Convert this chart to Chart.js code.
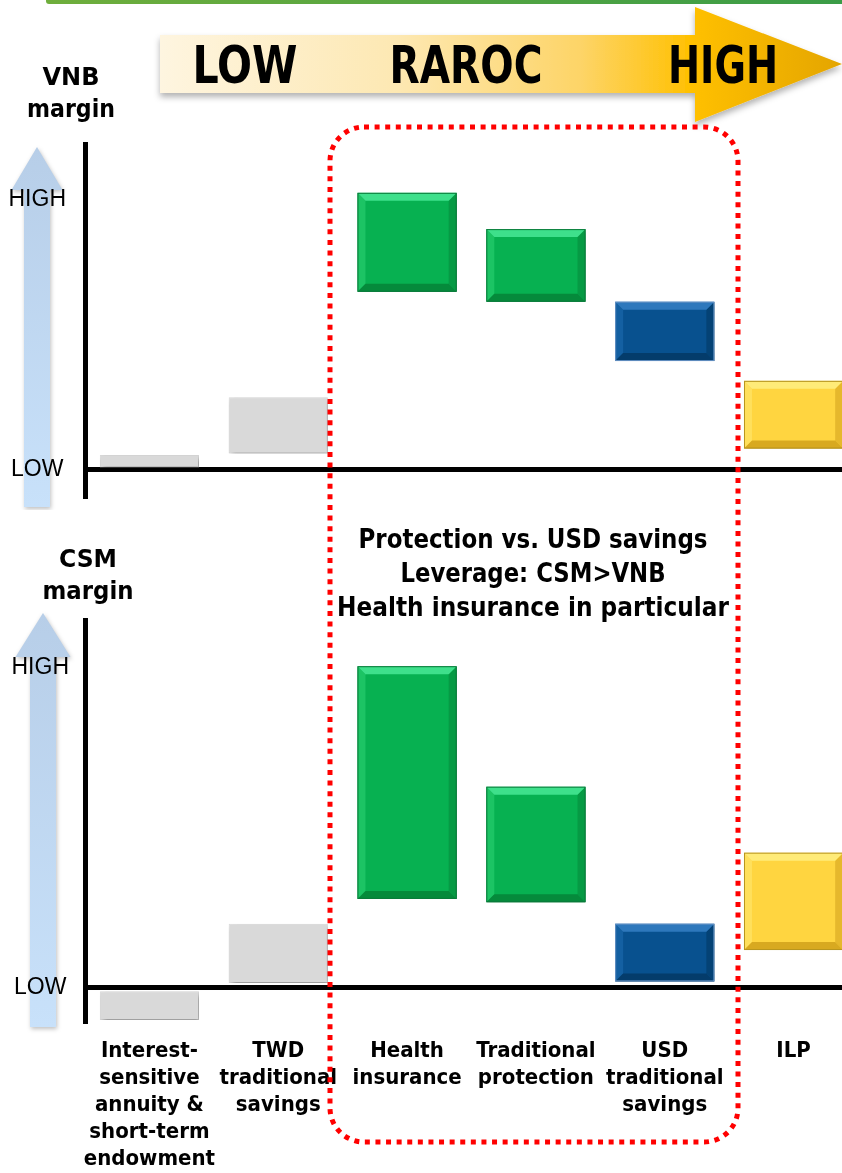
<!DOCTYPE html>
<html>
<head>
<meta charset="utf-8">
<script src="https://cdn.jsdelivr.net/npm/chart.js@4.4.1/dist/chart.umd.min.js"></script>
<style>
html, body { margin:0; padding:0; width:842px; height:1173px; overflow:hidden; background:#fff; }
#stage { position:relative; width:842px; height:1173px; }
canvas { position:absolute; left:0; }
#vnbChart { top:130px; }
#csmChart { top:600px; }
svg.layer { position:absolute; left:0; top:0; pointer-events:none; }
.narrow { font-family:"Liberation Sans Narrow", "DejaVu Sans Condensed", "Arial Narrow", sans-serif; font-weight:bold; fill:#000; }
</style>
</head>
<body>
<div id="stage">
  <canvas id="vnbChart" width="875" height="380"></canvas>
  <canvas id="csmChart" width="875" height="573"></canvas>
  <svg class="layer" width="842" height="1173">
    <defs>
      <linearGradient id="topLine" x1="0" x2="1">
        <stop offset="0" stop-color="#6fae3c"/>
        <stop offset="1" stop-color="#3a9c47"/>
      </linearGradient>
      <linearGradient id="raroc" x1="160" x2="842" y1="0" y2="0" gradientUnits="userSpaceOnUse">
        <stop offset="0" stop-color="#fef5e0"/>
        <stop offset="0.35" stop-color="#fde8b2"/>
        <stop offset="0.62" stop-color="#fdd466"/>
        <stop offset="0.78" stop-color="#ffc000"/>
        <stop offset="1" stop-color="#e4a500"/>
      </linearGradient>
      <filter id="shadow" x="-5%" y="-20%" width="110%" height="160%">
        <feDropShadow dx="0" dy="4" stdDeviation="3" flood-color="#000" flood-opacity="0.3"/>
      </filter>
    </defs>
    <rect x="46" y="-2" width="800" height="6" rx="3" fill="url(#topLine)"/>
    <path d="M160 35 H695 V7 L842 64 L695 122 V93 H160 Z" fill="url(#raroc)" filter="url(#shadow)"/>
    <text class="narrow" x="245" y="83" font-size="52" text-anchor="middle" textLength="105" lengthAdjust="spacingAndGlyphs">LOW</text>
    <text class="narrow" x="466" y="83" font-size="52" text-anchor="middle" textLength="153" lengthAdjust="spacingAndGlyphs">RAROC</text>
    <text class="narrow" x="723" y="83" font-size="52" text-anchor="middle" textLength="110" lengthAdjust="spacingAndGlyphs">HIGH</text>

    <text class="narrow" x="71" y="85" font-size="24" text-anchor="middle" textLength="57" lengthAdjust="spacingAndGlyphs">VNB</text>
    <text class="narrow" x="71" y="117" font-size="24" text-anchor="middle" textLength="88" lengthAdjust="spacingAndGlyphs">margin</text>
    <text class="narrow" x="88" y="567" font-size="24" text-anchor="middle" textLength="58" lengthAdjust="spacingAndGlyphs">CSM</text>
    <text class="narrow" x="88" y="599" font-size="24" text-anchor="middle" textLength="91" lengthAdjust="spacingAndGlyphs">margin</text>

    <text class="narrow" x="533" y="548" font-size="26" text-anchor="middle" textLength="349" lengthAdjust="spacingAndGlyphs">Protection vs. USD savings</text>
    <text class="narrow" x="533" y="582" font-size="26" text-anchor="middle" textLength="265" lengthAdjust="spacingAndGlyphs">Leverage: CSM&gt;VNB</text>
    <text class="narrow" x="533" y="616" font-size="26" text-anchor="middle" textLength="392" lengthAdjust="spacingAndGlyphs">Health insurance in particular</text>

    <rect x="330" y="127" width="408" height="1015" rx="34" fill="none" stroke="#ff0000" stroke-width="5" stroke-dasharray="5 5.6"/>
  </svg>
</div>
<script>
// product lines, left (low RAROC) to right (high RAROC)
const categories = [
  ['Interest-', 'sensitive', 'annuity &', 'short-term', 'endowment'],
  ['TWD', 'traditional', 'savings'],
  ['Health', 'insurance'],
  ['Traditional', 'protection'],
  ['USD', 'traditional', 'savings'],
  ['ILP']
];
// VNB margin band per product (bottom / top of each box)
const vnbLow  = [0, 5, 54, 51, 33, 6.5];
const vnbHigh = [4.5, 22, 84, 73, 51, 27];
// CSM margin band per product
const csmLow  = [-9.7, 1.5, 27, 26, 2, 11.5];
const csmHigh = [-1, 19.5, 97.5, 61, 19.5, 41];
// y axis marks
const levelLabels = ['LOW', 'HIGH'];
const vnbHighMark = 82;
const csmHighMark = 97;

const barStyle = ['gray', 'gray', 'green', 'green', 'blue', 'yellow'];
const LOOK = {
  gray:   { fill: '#d9d9d9', edge: '#d9d9d9' },
  green:  { fill: '#07b151', edge: '#0a7a3a', top: '#3ee08b', left: '#1cc464', right: '#069a44', bottom: '#058a3b' },
  blue:   { fill: '#08518f', edge: '#6592c4', top: '#2e78bc', left: '#1460a2', right: '#044275', bottom: '#043c6b' },
  yellow: { fill: '#ffd540', edge: '#b8951f', top: '#ffeb78', left: '#ffe05c', right: '#e6b82c', bottom: '#d8a920' }
};
const NARROW = '"Liberation Sans Narrow", "DejaVu Sans Condensed", "Arial Narrow", sans-serif';

function poly(ctx, color, pts) {
  ctx.fillStyle = color;
  ctx.beginPath();
  ctx.moveTo(pts[0][0], pts[0][1]);
  for (let k = 1; k < pts.length; k++) ctx.lineTo(pts[k][0], pts[k][1]);
  ctx.closePath();
  ctx.fill();
}

// shadow under the boxes + bevelled edges like the slide shapes
const bevelPlugin = {
  id: 'bevel',
  beforeDatasetsDraw(chart) {
    const ctx = chart.ctx;
    ctx.save();
    ctx.shadowColor = 'rgba(0,0,0,0.35)';
    ctx.shadowBlur = 5;
    ctx.shadowOffsetX = 2;
    ctx.shadowOffsetY = 3;
  },
  afterDatasetsDraw(chart) {
    const ctx = chart.ctx;
    ctx.restore();
    chart.getDatasetMeta(0).data.forEach((bar, i) => {
      const look = LOOK[barStyle[i]];
      if (!look.top) return;
      const p = bar.getProps(['x', 'y', 'base', 'width'], true);
      const l = p.x - p.width / 2, r = p.x + p.width / 2;
      const t = Math.min(p.y, p.base), b = Math.max(p.y, p.base);
      const d = 8;
      poly(ctx, look.left, [[l, t], [l + d, t + d], [l + d, b - d], [l, b]]);
      poly(ctx, look.right, [[r, t], [r - d, t + d], [r - d, b - d], [r, b]]);
      poly(ctx, look.bottom, [[l, b], [l + d, b - d], [r - d, b - d], [r, b]]);
      poly(ctx, look.top, [[l, t], [r, t], [r - d, t + d], [l + d, t + d]]);
      ctx.strokeStyle = look.edge;
      ctx.lineWidth = 1;
      ctx.strokeRect(l + 0.5, t + 0.5, p.width - 1, b - t - 1);
    });
  }
};

// light blue LOW->HIGH arrow behind the y labels
function levelArrow(cx, tip, base, bottom, shaftW, headW) {
  return {
    id: 'levelArrow',
    beforeDraw(chart) {
      const ctx = chart.ctx;
      ctx.save();
      const g = ctx.createLinearGradient(0, tip, 0, bottom);
      g.addColorStop(0, '#b7cee8');
      g.addColorStop(1, '#c8e1fa');
      ctx.fillStyle = g;
      ctx.shadowColor = 'rgba(0,0,0,0.25)';
      ctx.shadowBlur = 4;
      ctx.shadowOffsetX = 1;
      ctx.shadowOffsetY = 2;
      ctx.beginPath();
      ctx.moveTo(cx, tip);
      ctx.lineTo(cx + headW / 2, base);
      ctx.lineTo(cx + shaftW / 2, base);
      ctx.lineTo(cx + shaftW / 2, bottom);
      ctx.lineTo(cx - shaftW / 2, bottom);
      ctx.lineTo(cx - shaftW / 2, base);
      ctx.lineTo(cx - headW / 2, base);
      ctx.closePath();
      ctx.fill();
      ctx.restore();
    }
  };
}

function barDataset(low, high) {
  return {
    data: low.map((v, i) => [v, high[i]]),
    backgroundColor: barStyle.map(s => LOOK[s].fill),
    borderColor: barStyle.map(s => LOOK[s].edge),
    borderWidth: 1,
    borderSkipped: false,
    barPercentage: 0.77,
    categoryPercentage: 1
  };
}

function chartOptions(cfg) {
  return {
    responsive: false,
    animation: false,
    events: [],
    layout: { padding: cfg.padding },
    plugins: { legend: { display: false }, tooltip: { enabled: false } },
    scales: {
      x: {
        display: cfg.showLabels,
        grid: { display: false },
        border: { display: false },
        ticks: {
          color: '#000', padding: 9, maxRotation: 0, autoSkip: false,
          font: { family: NARROW, size: 22, weight: 'bold', lineHeight: '27px' }
        },
        afterFit: s => { if (cfg.xHeight) s.height = cfg.xHeight; s.paddingLeft = 0; s.paddingRight = 0; }
      },
      y: {
        min: cfg.min, max: cfg.max,
        border: { color: '#000', width: 5 },
        grid: {
          drawTicks: false,
          lineWidth: 5,
          color: c => (c.tick && c.tick.value === 0) ? '#000' : 'rgba(0,0,0,0)'
        },
        ticks: {
          crossAlign: 'center', padding: cfg.tickPad, color: '#000',
          font: { family: '"Liberation Sans", Arial, sans-serif', size: 23, lineHeight: 1 },
          callback: v => v === 0 ? levelLabels[0] : levelLabels[1]
        },
        afterBuildTicks: s => { s.ticks = [{ value: 0 }, { value: cfg.highAt }]; },
        afterFit: s => { s.width = 85; s.paddingTop = 0; s.paddingBottom = 0; }
      }
    }
  };
}

new Chart(document.getElementById('vnbChart'), {
  type: 'bar',
  data: { labels: categories, datasets: [barDataset(vnbLow, vnbHigh)] },
  options: chartOptions({ padding: { top: 14, right: 17, bottom: 14, left: 0 }, showLabels: false,
    min: -7.9, max: 98.8, highAt: vnbHighMark, tickPad: 19 }),
  plugins: [levelArrow(37, 17, 60, 377, 26, 51), bevelPlugin]
});

new Chart(document.getElementById('csmChart'), {
  type: 'bar',
  data: { labels: categories, datasets: [barDataset(csmLow, csmHigh)] },
  options: chartOptions({ padding: { top: 20, right: 17, bottom: 0, left: 0 }, showLabels: true, xHeight: 152,
    min: -10, max: 111.5, highAt: csmHighMark, tickPad: 16 }),
  plugins: [levelArrow(43, 13, 57, 427, 26, 55), bevelPlugin]
});
</script>
</body>
</html>
